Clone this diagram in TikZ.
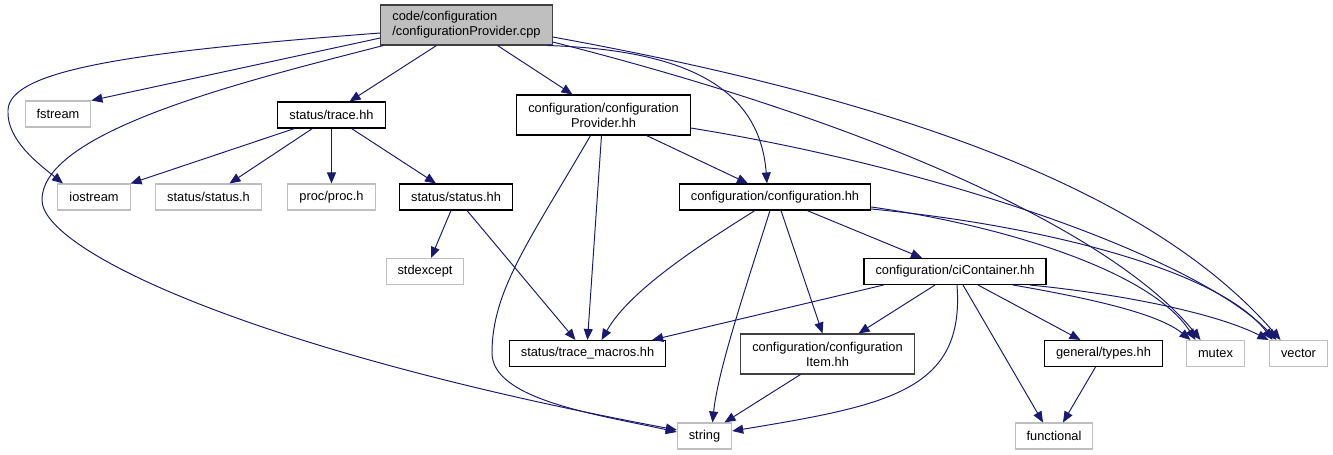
\documentclass[tikz,border=0pt]{standalone}
\usepackage{fontspec}
\setmainfont{Liberation Sans}
\usetikzlibrary{arrows.meta,calc}

\definecolor{incblue}{HTML}{191970}
\definecolor{extgray}{HTML}{BFBFBF}
\definecolor{curgray}{HTML}{404040}

\tikzset{
    file/.style={draw, rectangle, inner xsep=0.23cm, inner ysep=0pt, minimum height=0.52cm,
        font=\fontsize{7.3}{8.6}\selectfont, line width=0.6pt},
    doc/.style={file, draw=black},
    ext/.style={file, draw=extgray},
    cur/.style={file, draw=curgray, fill=extgray, minimum height=0.8cm, align=left},
    twoline/.style={doc, minimum height=0.8cm, align=center},
    inc/.style={draw=incblue, line width=0.55pt, -{Triangle[length=0.22cm,width=0.18cm]}},
}

\begin{document}
\begin{tikzpicture}[x=0.02cm, y=-0.02cm]
        \useasboundingbox (0,0) rectangle (1333,455);

        \node[cur] (cpp) at (466.5,25) {code/configuration\\/configurationProvider.cpp};
        \node[ext] (fstream) at (58,114) {fstream};
        \node[doc] (trace) at (331.5,115) {status/trace.hh};
        \node[twoline] (cprov) at (603.5,115) {configuration/configuration\\Provider.hh};
        \node[ext] (iostream) at (94,197) {iostream};
        \node[ext] (statush) at (208.5,197) {status/status.h};
        \node[ext] (proch) at (331.5,197) {proc/proc.h};
        \node[doc] (statushh) at (456,197) {status/status.hh};
        \node[doc] (conf) at (775,197) {configuration/configuration.hh};
        \node[ext] (stdexcept) at (425,271.5) {stdexcept};
        \node[doc] (cicont) at (955,271.5) {configuration/ciContainer.hh};
        \node[doc] (tmacros) at (587.5,353.5) {status/trace\_macros.hh};
        \node[twoline, draw=curgray] (citem) at (827.5,354) {configuration/configuration\\Item.hh};
        \node[doc] (types) at (1103.5,353.5) {general/types.hh};
        \node[ext] (mutex) at (1215.5,353.5) {mutex};
        \node[ext] (vector) at (1298.5,353.5) {vector};
        \node[ext] (string) at (704.5,436) {string};
        \node[ext] (functional) at (1054,436) {functional};

        % configurationProvider.cpp
        \draw[inc] ($(cpp.west)+(0,8)$) .. controls (130,52) and (10,70) .. (8,110)
            .. controls (6,140) and (40,165) .. ($(iostream.north)+(-31,0)$);
        \draw[inc] ($(cpp.west)+(0,13)$) -- (fstream.north east);
        \draw[inc] ($(cpp.south west)+(3,0)$) .. controls (250,80) and (42,130) .. (42,200)
            .. controls (42,250) and (250,350) .. ($(string.west)+(0,-6)$);
        \draw[inc] ($(cpp.south)+(-30,0)$) -- ($(trace.north)+(18,0)$);
        \draw[inc] ($(cpp.south)+(31,0)$) -- ($(cprov.north)+(-31,0)$);
        \draw[inc] ($(cpp.south east)+(-5,0)$) .. controls (690,50) and (760,90) .. ($(conf.north)+(-8,0)$);
        \draw[inc] ($(cpp.east)+(0,17)$) .. controls (900,130) and (1120,240) .. ($(mutex.north)+(-15,0)$);
        \draw[inc] ($(cpp.east)+(0,12)$) .. controls (900,100) and (1150,190) .. ($(vector.north)+(-18,0)$);

        % configurationProvider.hh
        \draw[inc] ($(cprov.east)+(0,13)$) .. controls (950,170) and (1200,260) .. ($(vector.north)+(-22,0)$);
        \draw[inc] ($(cprov.south)+(43,0)$) -- ($(conf.north)+(-27,0)$);
        \draw[inc] ($(cprov.south)+(-2,0)$) -- (tmacros.north);
        \draw[inc] ($(cprov.south)+(-13,0)$) .. controls (530,240) and (492,290) .. (492,353)
            .. controls (492,400) and (600,415) .. ($(string.west)+(0,-4)$);

        % status/trace.hh
        \draw[inc] ($(trace.south)+(-37,0)$) -- (iostream.north east);
        \draw[inc] ($(trace.south)+(-19,0)$) -- ($(statush.north)+(21,0)$);
        \draw[inc] (trace.south) -- (proch.north);
        \draw[inc] ($(trace.south)+(20,0)$) -- ($(statushh.north)+(-20,0)$);

        % status/status.hh
        \draw[inc] ($(statushh.south)+(-5,0)$) -- ($(stdexcept.north)+(6,0)$);
        \draw[inc] ($(statushh.south)+(11,0)$) -- ($(tmacros.north)+(-12,0)$);

        % configuration.hh
        \draw[inc] ($(conf.south)+(-20,0)$) .. controls (700,245) and (630,290) .. ($(tmacros.north)+(14,0)$);
        \draw[inc] ($(conf.south)+(-5,0)$) .. controls (745,290) and (718,370) .. ($(string.north)+(8,0)$);
        \draw[inc] ($(conf.south)+(6,0)$) -- ($(citem.north)+(-5,0)$);
        \draw[inc] ($(conf.south)+(32,0)$) -- ($(cicont.north)+(-33,0)$);
        \draw[inc] ($(conf.east)+(0,10)$) .. controls (1000,225) and (1150,270) .. ($(mutex.north)+(-20,0)$);
        \draw[inc] ($(conf.east)+(0,12)$) .. controls (1040,225) and (1220,270) .. ($(vector.north)+(-26,0)$);

        % ciContainer.hh
        \draw[inc] ($(cicont.south west)+(20,0)$) -- ($(tmacros.north east)+(-14,0)$);
        \draw[inc] ($(cicont.south)+(-20,0)$) -- ($(citem.north)+(31,0)$);
        \draw[inc] ($(cicont.south)+(2,0)$) .. controls (965,390) and (890,405) .. ($(string.east)+(0,-5)$);
        \draw[inc] ($(cicont.south)+(8,0)$) -- ($(functional.north)+(-11,0)$);
        \draw[inc] ($(cicont.south)+(23,0)$) -- ($(types.north)+(-23,0)$);
        \draw[inc] ($(cicont.south)+(58,0)$) .. controls (1100,300) and (1160,315) .. ($(mutex.north)+(-25,0)$);
        \draw[inc] ($(cicont.south)+(75,0)$) .. controls (1130,295) and (1220,315) .. ($(vector.north)+(-30,0)$);

        \draw[inc] ($(citem.south)+(-27,0)$) -- ($(string.north)+(20,0)$);
        \draw[inc] ($(types.south)+(-8,0)$) -- ($(functional.north)+(9,0)$);
\end{tikzpicture}
\end{document}
